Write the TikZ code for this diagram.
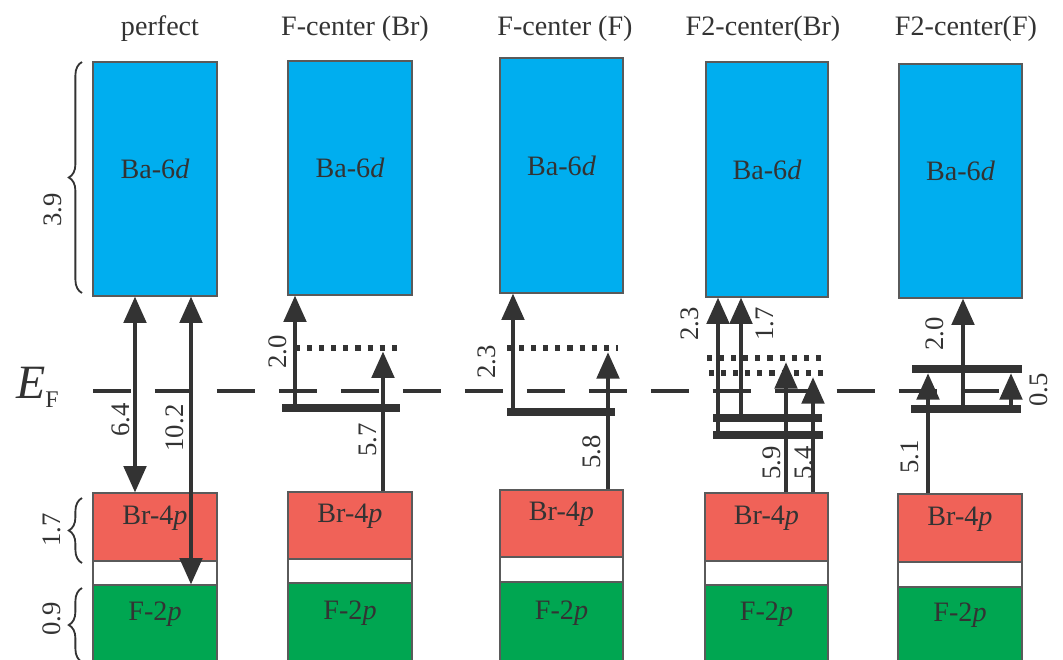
\documentclass[tikz,border=0pt]{standalone}
\usepackage{fontspec}
\setmainfont{Liberation Serif}
\usetikzlibrary{arrows.meta,fit,decorations.pathreplacing}
\definecolor{bablue}{RGB}{0,174,239}
\definecolor{brred}{RGB}{240,98,88}
\definecolor{fgreen}{RGB}{0,166,81}
\definecolor{dark}{RGB}{51,51,51}
\definecolor{edge}{RGB}{90,90,90}
\begin{document}
\begin{tikzpicture}[x=0.025cm,y=-0.025cm,
  band/.style={draw=edge, line width=0.8pt, inner sep=0pt, text=dark, font=\fontsize{20}{24}\selectfont},
  title/.style={text=dark, inner sep=0pt, anchor=base, font=\fontsize{20}{24}\selectfont},
  num/.style={text=dark, inner sep=0pt, rotate=90, font=\fontsize{19}{22}\selectfont},
  arr/.style={draw=dark, line width=2.8pt, -{Triangle[length=0.66cm,width=0.56cm]}},
  darr/.style={draw=dark, line width=2.8pt, {Triangle[length=0.66cm,width=0.56cm]}-{Triangle[length=0.66cm,width=0.56cm]}},
  lvl/.style={draw=dark, line width=5pt},
  dotl/.style={draw=dark, line width=3.6pt, dash pattern=on 3.6pt off 5pt},
  efline/.style={draw=dark, line width=2.8pt, dash pattern=on 27pt off 17.07pt},
  brc/.style={draw=dark, line width=1.3pt, decorate, decoration={brace, amplitude=0.33cm}},
]
\useasboundingbox (0,0) rectangle (1063,659);
\clip (0,0) rectangle (1063,659);

% titles
\node[title] (t1) at (160,35) {perfect};
\node[title] (t2) at (355,35) {F-center (Br)};
\node[title] (t3) at (565,35) {F-center (F)};
\node[title] (t4) at (763,35) {F2-center(Br)};
\node[title] (t5) at (966,35) {F2-center(F)};

% bands
\node[band, fill=bablue, fit={(93,62)(217,296)}] (ba1) {Ba-6\textit{d}};
\node[band, fill=brred, fit={(93,493)(217,561)}] (br1) {Br-4\textit{p}};
\node[band, fill=white, fit={(93,561)(217,585)}] (g1) {};
\node[band, fill=fgreen, fit={(93,585)(217,662)}] (f1) {F-2\textit{p}};

\node[band, fill=bablue, fit={(288,61)(412,295)}] (ba2) {Ba-6\textit{d}};
\node[band, fill=brred, fit={(288,492)(412,559)}] (br2) {Br-4\textit{p}};
\node[band, fill=white, fit={(288,559)(412,583)}] (g2) {};
\node[band, fill=fgreen, fit={(288,583)(412,662)}] (f2) {F-2\textit{p}};

\node[band, fill=bablue, fit={(500,58)(623,293)}] (ba3) {Ba-6\textit{d}};
\node[band, fill=brred, fit={(500,490)(623,557)}] (br3) {Br-4\textit{p}};
\node[band, fill=white, fit={(500,557)(623,582)}] (g3) {};
\node[band, fill=fgreen, fit={(500,582)(623,662)}] (f3) {F-2\textit{p}};

\node[band, fill=bablue, fit={(706,62)(828,297)}] (ba4) {Ba-6\textit{d}};
\node[band, fill=brred, fit={(705,493)(828,561)}] (br4) {Br-4\textit{p}};
\node[band, fill=white, fit={(705,561)(828,585)}] (g4) {};
\node[band, fill=fgreen, fit={(705,585)(828,662)}] (f4) {F-2\textit{p}};

\node[band, fill=bablue, fit={(899,64)(1022,298)}] (ba5) {Ba-6\textit{d}};
\node[band, fill=brred, fit={(898,494)(1022,562)}] (br5) {Br-4\textit{p}};
\node[band, fill=white, fit={(898,562)(1022,587)}] (g5) {};
\node[band, fill=fgreen, fit={(898,587)(1022,662)}] (f5) {F-2\textit{p}};

% Fermi level
\node[anchor=base west, inner sep=0pt, text=dark] (ef) at (16,398)
  {\fontsize{34}{34}\selectfont\textit{E}\raisebox{-7pt}{\fontsize{17}{17}\selectfont F}};
\coordinate (efl) at (93,391);
\coordinate (efr) at (999,391);
\draw[efline] (efl) -- (efr);

% braces
\coordinate (b1a) at (82,293); \coordinate (b1b) at (82,62);
\coordinate (b2a) at (82,563); \coordinate (b2b) at (82,498);
\coordinate (b3a) at (82,662); \coordinate (b3b) at (82,588);
\draw[brc] (b1a) -- (b1b);
\draw[brc] (b2a) -- (b2b);
\draw[brc] (b3a) -- (b3b);
\node[num] (n39) at (53,210) {3.9};
\node[num] (n17a) at (52,530) {1.7};
\node[num] (n09) at (52,619) {0.9};

% column 1
\coordinate (x1a) at (135,0);
\coordinate (x1b) at (191,0);
\draw[darr] (br1.north -| x1a) -- (ba1.south -| x1a);
\draw[darr] (f1.north -| x1b) -- (ba1.south -| x1b);
\node[num] (n64) at (121,420) {6.4};
\node[num] (n102) at (175,428) {10.2};

% column 2
\coordinate (s2l) at (282,408); \coordinate (s2r) at (400,408);
\coordinate (d2l) at (295,348); \coordinate (d2r) at (398,348);
\coordinate (x2a) at (295,0); \coordinate (x2b) at (383,0);
\draw[dotl] (d2l) -- (d2r);
\draw[arr] (s2l -| x2a) -- (ba2.south -| x2a);
\draw[arr, shorten >=2.5pt] (br2.north -| x2b) -- (d2l -| x2b);
\draw[lvl] (s2l) -- (s2r);
\node[num] (n20a) at (278,352) {2.0};
\node[num] (n57) at (368,440) {5.7};

% column 3
\coordinate (s3l) at (507,412); \coordinate (s3r) at (615,412);
\coordinate (d3l) at (507,348); \coordinate (d3r) at (618,348);
\coordinate (x3a) at (513,0); \coordinate (x3b) at (608,0);
\draw[dotl] (d3l) -- (d3r);
\draw[arr] (s3l -| x3a) -- (ba3.south -| x3a);
\draw[arr, shorten >=3pt] (br3.north -| x3b) -- (d3l -| x3b);
\draw[lvl] (s3l) -- (s3r);
\node[num] (n23a) at (487,362) {2.3};
\node[num] (n58) at (592,452) {5.8};

% column 4
\coordinate (u4l) at (713,418); \coordinate (u4r) at (822,418);
\coordinate (w4l) at (713,435); \coordinate (w4r) at (823,435);
\coordinate (d4l) at (707,358); \coordinate (d4r) at (823,358);
\coordinate (e4l) at (709,373); \coordinate (e4r) at (823,373);
\coordinate (x4a) at (718,0); \coordinate (x4b) at (741,0);
\coordinate (x4c) at (786,0); \coordinate (x4d) at (813,0);
\draw[dotl] (d4l) -- (d4r);
\draw[dotl] (e4l) -- (e4r);
\draw[arr] (w4l -| x4a) -- (ba4.south -| x4a);
\draw[arr] (u4l -| x4b) -- (ba4.south -| x4b);
\draw[arr, shorten >=3pt] (br4.north -| x4c) -- (d4l -| x4c);
\draw[arr, shorten >=3pt] (br4.north -| x4d) -- (e4l -| x4d);
\draw[lvl] (u4l) -- (u4r);
\draw[lvl] (w4l) -- (w4r);
\node[num] (n23b) at (690,324) {2.3};
\node[num] (n17b) at (765,324) {1.7};
\node[num] (n59) at (772,463) {5.9};
\node[num] (n54) at (804,463) {5.4};

% column 5
\coordinate (u5l) at (912,369); \coordinate (u5r) at (1022,369);
\coordinate (w5l) at (911,409); \coordinate (w5r) at (1021,409);
\coordinate (x5a) at (928,0); \coordinate (x5b) at (963,0);
\coordinate (x5c) at (1011,0);
\draw[arr, shorten >=3pt] (br5.north -| x5a) -- (u5l -| x5a);
\draw[arr] (w5l -| x5b) -- (ba5.south -| x5b);
\draw[arr, shorten >=3pt] (w5l -| x5c) -- (u5l -| x5c);
\draw[lvl] (u5l) -- (u5r);
\draw[lvl] (w5l) -- (w5r);
\node[num] (n20b) at (935,334) {2.0};
\node[num] (n51) at (910,457) {5.1};
\node[num] (n05) at (1039,390) {0.5};
\end{tikzpicture}
\end{document}
